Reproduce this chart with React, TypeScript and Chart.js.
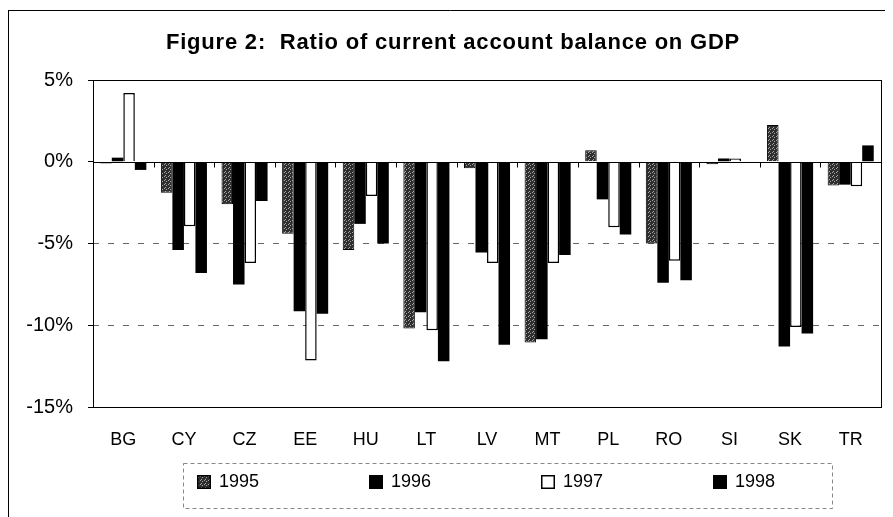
import React, { useEffect, useRef } from "react";
import { Chart, registerables } from "chart.js";

Chart.register(...registerables);

const categories = ["BG", "CY", "CZ", "EE", "HU", "LT", "LV", "MT", "PL", "RO", "SI", "SK", "TR"];
const seriesNames = ["1995", "1996", "1997", "1998"];
const values1995 = [-0.1, -1.9, -2.6, -4.4, -5.4, -10.2, -0.4, -11.05, 0.7, -5.0, -0.15, 2.25, -1.45];
const values1996 = [0.25, -5.4, -7.5, -9.15, -3.8, -9.2, -5.55, -10.85, -2.3, -7.4, 0.2, -11.3, -1.4];
const values1997 = [4.2, -3.95, -6.2, -12.15, -2.1, -10.3, -6.2, -6.2, -4.0, -6.05, 0.2, -10.1, -1.5];
const values1998 = [-0.5, -6.8, -2.4, -9.3, -5.0, -12.2, -11.2, -5.7, -4.45, -7.25, 0.0, -10.5, 1.0];
const yTicks = [5, 0, -5, -10, -15];
const titleText = "Figure 2:  Ratio of current account balance on GDP";

const FONT = "'Liberation Sans', Arial, sans-serif";

function makeStipple(): CanvasPattern | string {
  const c = document.createElement("canvas");
  c.width = 4;
  c.height = 4;
  const g = c.getContext("2d");
  if (!g) return "#555";
  g.fillStyle = "#2e2e2e";
  g.fillRect(0, 0, 4, 4);
  g.fillStyle = "#a8a8a8";
  g.fillRect(0, 0, 1, 1);
  g.fillRect(2, 1, 1, 1);
  g.fillRect(1, 3, 1, 1);
  const p = g.createPattern(c, "repeat");
  return p || "#555";
}

export default function App() {
  const ref = useRef<HTMLCanvasElement | null>(null);

  useEffect(() => {
    const canvas = ref.current;
    if (!canvas) return;
    const stipple = makeStipple();

    const decor = {
      id: "decor",
      beforeDraw(chart: any) {
        const ctx = chart.ctx;
        ctx.save();
        ctx.fillStyle = "#fff";
        ctx.fillRect(0, 0, chart.width, chart.height);
        ctx.restore();
      },
      afterDraw(chart: any) {
        const ctx = chart.ctx as CanvasRenderingContext2D;
        const a = chart.chartArea;
        const x = chart.scales.x;
        const y = chart.scales.y;
        ctx.save();
        ctx.strokeStyle = "#000";
        ctx.lineWidth = 1;
        // plot border
        const L = Math.round(a.left) + 0.5;
        const T = Math.round(a.top) + 0.5;
        const R = Math.round(a.right) + 0.5;
        const B = Math.round(a.bottom) + 0.5;
        ctx.strokeRect(L, T, R - L, B - T);
        // zero line
        const y0 = Math.round(y.getPixelForValue(0)) + 0.5;
        ctx.beginPath();
        ctx.moveTo(L, y0);
        ctx.lineTo(R, y0);
        ctx.stroke();
        // category tick marks on zero line
        const half = (x.getPixelForValue(1) - x.getPixelForValue(0)) / 2;
        ctx.beginPath();
        for (let i = 0; i <= categories.length; i++) {
          const px = Math.round(x.getPixelForValue(i) - half) + 0.5;
          ctx.moveTo(px, y0);
          ctx.lineTo(px, y0 + 5);
        }
        ctx.stroke();
        // outer frame (left and top)
        ctx.beginPath();
        ctx.moveTo(0.5, 2);
        ctx.lineTo(0.5, chart.height);
        ctx.moveTo(0, 2.5);
        ctx.lineTo(chart.width, 2.5);
        ctx.stroke();
        // title
        ctx.fillStyle = "#000";
        ctx.font = `bold 22px ${FONT}`;
        (ctx as any).letterSpacing = "0.8px";
        ctx.textAlign = "center";
        ctx.textBaseline = "middle";
        ctx.fillText(titleText, 445, 35);
        (ctx as any).letterSpacing = "0px";
        // legend frame
        ctx.strokeStyle = "#888";
        ctx.setLineDash([4, 3]);
        ctx.strokeRect(175.5, 455.5, 649, 45);
        ctx.setLineDash([]);
        // legend items
        ctx.font = `18px ${FONT}`;
        ctx.textAlign = "left";
        const ds = chart.data.datasets;
        for (let i = 0; i < ds.length; i++) {
          const bx = 189 + i * 172;
          const by = 467;
          ctx.fillStyle = ds[i].backgroundColor;
          ctx.fillRect(bx, by, 14, 14);
          ctx.strokeStyle = "#000";
          ctx.lineWidth = 1.5;
          ctx.strokeRect(bx + 0.75, by + 0.75, 12.5, 12.5);
          ctx.fillStyle = "#000";
          ctx.fillText(ds[i].label, bx + 22, by + 7);
        }
        ctx.restore();
      },
    };

    const chart = new Chart(canvas, {
      type: "bar",
      data: {
        labels: categories,
        datasets: [
          { label: seriesNames[0], data: values1995, backgroundColor: stipple as any, borderColor: "#000", borderWidth: 1 },
          { label: seriesNames[1], data: values1996, backgroundColor: "#000", borderColor: "#000", borderWidth: 0 },
          { label: seriesNames[2], data: values1997, backgroundColor: "#fff", borderColor: "#000", borderWidth: 1.5 },
          { label: seriesNames[3], data: values1998, backgroundColor: "#000", borderColor: "#000", borderWidth: 0 },
        ],
      },
      options: {
        responsive: false,
        animation: false,
        layout: { padding: { left: 0, right: 12, top: 72, bottom: 60 } },
        plugins: {
          legend: { display: false },
          title: { display: false },
          tooltip: { enabled: false },
        },
        datasets: {
          bar: { categoryPercentage: 0.76, barPercentage: 1 },
        },
        scales: {
          x: {
            grid: { display: false, drawTicks: false },
            border: { display: false },
            ticks: { color: "#000", font: { family: FONT, size: 18 }, padding: 22, maxRotation: 0 },
            afterFit: (s: any) => {
              s.height = 50;
            },
          },
          y: {
            min: -15,
            max: 5,
            afterBuildTicks: (s: any) => {
              s.ticks = yTicks.map((v) => ({ value: v }));
            },
            grid: {
              color: (c: any) => (c.tick && (c.tick.value === -5 || c.tick.value === -10) ? "#666" : "rgba(0,0,0,0)"),
              tickColor: "#000",
              tickBorderDash: [],
              tickLength: 5,
              drawTicks: true,
            },
            border: { display: false, dash: [6, 9] },
            ticks: {
              color: "#000",
              font: { family: FONT, size: 20 },
              padding: 15,
              callback: (v: any) => `${v}%`,
            },
            afterFit: (s: any) => {
              s.width = 85;
            },
          },
        },
      },
      plugins: [decor],
    });

    return () => chart.destroy();
  }, []);

  return <canvas ref={ref} width={885} height={509} style={{ display: "block" }} />;
}
